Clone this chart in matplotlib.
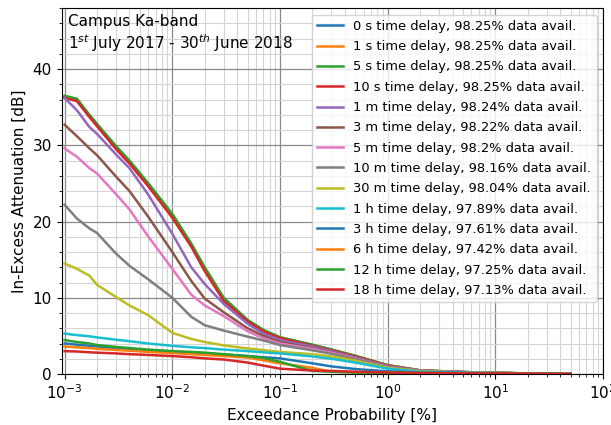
import numpy as np
import matplotlib
matplotlib.use('Agg')
import matplotlib.pyplot as plt

# exceedance probability grid [%]
prob = [0.001, 0.0013, 0.0017, 0.002, 0.003, 0.004, 0.006, 0.01, 0.015, 0.02, 0.03,
        0.05, 0.07, 0.1, 0.2, 0.3, 0.5, 1, 2, 5, 10, 20, 50]

# in-excess attenuation [dB] per time delay
att_0s  = [36.4, 36.0, 33.9, 32.7, 29.7, 27.8, 24.8, 20.8, 17.0, 13.8, 9.8, 7.0, 5.7, 4.8, 3.8, 3.2, 2.35, 1.15, 0.48, 0.26, 0.15, 0.08, 0.02]
att_1s  = [36.4, 36.1, 33.9, 32.7, 29.8, 27.9, 24.8, 20.9, 17.0, 13.9, 9.9, 7.0, 5.7, 4.8, 3.8, 3.2, 2.35, 1.15, 0.48, 0.26, 0.15, 0.08, 0.02]
att_5s  = [36.5, 36.1, 34.0, 32.8, 29.9, 28.0, 25.0, 21.0, 17.1, 14.0, 10.0, 7.1, 5.8, 4.8, 3.85, 3.2, 2.4, 1.15, 0.48, 0.26, 0.15, 0.08, 0.02]
att_10s = [36.2, 35.8, 33.7, 32.5, 29.5, 27.6, 24.6, 20.5, 16.7, 13.5, 9.6, 6.9, 5.6, 4.7, 3.7, 3.1, 2.3, 1.1, 0.45, 0.25, 0.15, 0.08, 0.02]
att_1m  = [36.2, 34.6, 32.4, 31.5, 28.8, 27.0, 23.5, 18.4, 14.0, 11.8, 9.2, 6.6, 5.3, 4.45, 3.6, 3.0, 2.2, 1.05, 0.45, 0.25, 0.15, 0.08, 0.02]
att_3m  = [32.7, 31.2, 29.6, 28.7, 25.9, 24.0, 20.6, 16.0, 12.2, 9.9, 8.1, 6.0, 5.0, 4.2, 3.4, 2.85, 2.1, 1.0, 0.43, 0.24, 0.14, 0.07, 0.02]
att_5m  = [29.6, 28.5, 27.0, 26.3, 23.6, 21.6, 18.0, 13.8, 10.4, 9.0, 7.6, 5.6, 4.7, 4.0, 3.3, 2.8, 2.05, 0.95, 0.42, 0.23, 0.14, 0.07, 0.02]
att_10m = [22.2, 20.4, 19.1, 18.5, 15.8, 14.2, 12.4, 10.0, 7.5, 6.4, 5.7, 4.9, 4.4, 3.8, 3.1, 2.65, 1.95, 0.9, 0.4, 0.22, 0.13, 0.07, 0.02]
att_30m = [14.5, 13.8, 12.9, 11.7, 10.1, 9.0, 7.7, 5.4, 4.6, 4.2, 3.75, 3.35, 3.15, 2.9, 2.6, 2.3, 1.75, 0.8, 0.37, 0.2, 0.12, 0.06, 0.02]
att_1h  = [5.3, 5.1, 4.95, 4.8, 4.5, 4.3, 4.0, 3.7, 3.5, 3.4, 3.2, 3.0, 2.85, 2.7, 2.3, 2.0, 1.5, 0.7, 0.3, 0.18, 0.11, 0.06, 0.02]
att_3h  = [4.0, 3.85, 3.7, 3.6, 3.4, 3.3, 3.1, 2.95, 2.8, 2.7, 2.55, 2.35, 2.2, 2.05, 1.4, 1.0, 0.65, 0.35, 0.2, 0.14, 0.1, 0.05, 0.02]
att_6h  = [3.6, 3.5, 3.4, 3.3, 3.15, 3.05, 2.9, 2.75, 2.6, 2.5, 2.35, 2.15, 1.8, 1.4, 0.8, 0.3, 0.2, 0.15, 0.12, 0.1, 0.08, 0.04, 0.01]
att_12h = [4.45, 4.2, 4.0, 3.8, 3.55, 3.4, 3.2, 3.0, 2.9, 2.8, 2.6, 2.35, 2.1, 1.6, 0.4, 0.3, 0.2, 0.15, 0.12, 0.1, 0.08, 0.04, 0.01]
att_18h = [3.0, 2.95, 2.85, 2.8, 2.7, 2.6, 2.5, 2.35, 2.2, 2.05, 1.9, 1.5, 1.1, 0.7, 0.45, 0.4, 0.3, 0.2, 0.12, 0.09, 0.06, 0.03, 0.01]

labels = ['0 s time delay, 98.25% data avail.',
          '1 s time delay, 98.25% data avail.',
          '5 s time delay, 98.25% data avail.',
          '10 s time delay, 98.25% data avail.',
          '1 m time delay, 98.24% data avail.',
          '3 m time delay, 98.22% data avail.',
          '5 m time delay, 98.2% data avail.',
          '10 m time delay, 98.16% data avail.',
          '30 m time delay, 98.04% data avail.',
          '1 h time delay, 97.89% data avail.',
          '3 h time delay, 97.61% data avail.',
          '6 h time delay, 97.42% data avail.',
          '12 h time delay, 97.25% data avail.',
          '18 h time delay, 97.13% data avail.']
curves = [att_0s, att_1s, att_5s, att_10s, att_1m, att_3m, att_5m, att_10m,
          att_30m, att_1h, att_3h, att_6h, att_12h, att_18h]

plt.rcParams['font.size'] = 11
fig = plt.figure(figsize=(6.11, 4.25), dpi=100)
ax = fig.add_axes([0.101, 0.12, 0.886, 0.861])

for att, lab in zip(curves, labels):
    ax.plot(prob, att, linewidth=1.8, label=lab)

ax.set_xscale('log')
ax.set_xlim(9.4e-4, 100)
ax.set_ylim(0, 48)
ax.yaxis.set_minor_locator(matplotlib.ticker.MultipleLocator(2))
ax.xaxis.set_minor_locator(matplotlib.ticker.LogLocator(base=10, subs=np.arange(2, 10), numticks=20))
ax.grid(True, which='major', color='#8a8a8a', linewidth=0.9)
ax.grid(True, which='minor', color='#d4d4d4', linewidth=0.8)
ax.set_axisbelow(True)
for s in ax.spines.values():
    s.set_color('black')

ax.set_xlabel('Exceedance Probability [%]')
ax.set_ylabel('In-Excess Attenuation [dB]')
ax.text(0.012, 0.985, 'Campus Ka-band\n1$^{st}$ July 2017 - 30$^{th}$ June 2018',
        transform=ax.transAxes, va='top', ha='left', fontsize=11)
ax.legend(loc='upper right', fontsize=9.4, labelspacing=0.56, handlelength=2.0,
          borderaxespad=0.5)

fig.savefig('out.png', dpi=100)
